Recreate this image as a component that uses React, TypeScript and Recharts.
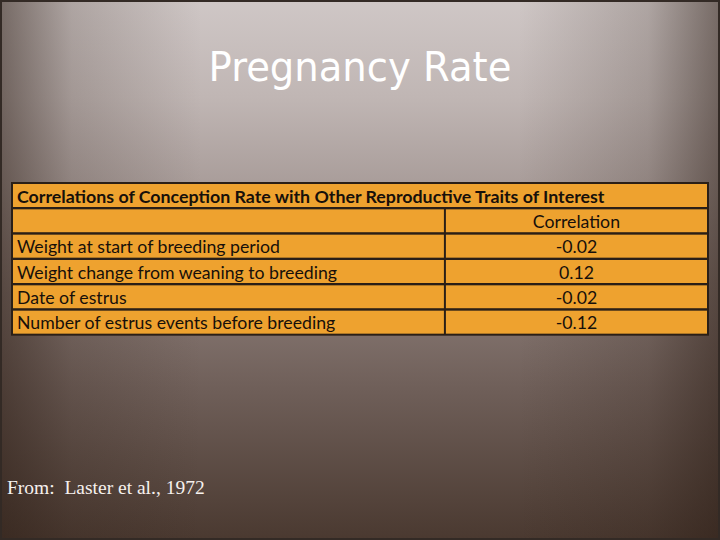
import { BarChart, Bar, XAxis, YAxis } from "recharts";

const slideTitle = "Pregnancy Rate";
const tableTitle =
  "Correlations of Conception Rate with Other Reproductive Traits of Interest";
const valueHeader = "Correlation";
const traits = [
  "Weight at start of breeding period",
  "Weight change from weaning to breeding",
  "Date of estrus",
  "Number of estrus events before breeding",
];
const correlations = [-0.02, 0.12, -0.02, -0.12];
const source = "From:  Laster et al., 1972";

type Row = { id: string; kind: "title" | "header" | "trait"; label: string; value: number | null };

const rows: Row[] = [
  { id: "title", kind: "title", label: tableTitle, value: null },
  { id: "header", kind: "header", label: "", value: null },
  ...traits.map((t, i) => ({ id: `trait-${i}`, kind: "trait" as const, label: t, value: correlations[i] })),
];

const ORANGE = "#eea22f";
const LINE = "#2a1f17";
const INK = "#17100a";
const FONT = "Lato, 'Open Sans', sans-serif";

const renderRow = (props: any) => {
  const { x, y, width, height, index } = props;
  const row: Row | undefined = props.payload ?? rows[index];
  if (!row) return <g />;
  const splitX = x + width * 0.622;
  const midX = (splitX + x + width) / 2;
  const baseY = y + height / 2 + 7;
  return (
    <g key={`row-${row.id}`}>
      <rect x={x} y={y} width={width} height={height} fill={ORANGE} stroke={LINE} strokeWidth={2} />
      {row.kind !== "title" && (
        <line x1={splitX} y1={y} x2={splitX} y2={y + height} stroke={LINE} strokeWidth={2} />
      )}
      <text
        x={x + 5}
        y={baseY}
        fontFamily={FONT}
        fontWeight={row.kind === "title" ? 700 : 400}
        fontSize={row.kind === "title" ? 17.8 : 17.7}
        fill={INK}
      >
        {row.label}
      </text>
      {row.kind === "header" && (
        <text x={midX} y={baseY} textAnchor="middle" fontFamily={FONT} fontSize={17.7} fill={INK}>
          {valueHeader}
        </text>
      )}
      {row.kind === "trait" && row.value !== null && (
        <text x={midX} y={baseY} textAnchor="middle" fontFamily={FONT} fontSize={17.7} fill={INK}>
          {row.value.toFixed(2)}
        </text>
      )}
    </g>
  );
};

export default function App() {
  return (
    <div
      style={{
        position: "absolute",
        left: 0,
        top: 0,
        width: 720,
        height: 540,
        overflow: "hidden",
        background:
          "linear-gradient(to bottom, #cfc7c6 0%, #c0b6b4 18%, #a99d9a 34%, #8c7d78 52%, #6f5f59 72%, #4a3930 100%)",
      }}
    >
      <div
        style={{
          position: "absolute",
          inset: 0,
          background:
            "linear-gradient(to right, rgba(45,30,22,0.55) 0%, rgba(45,30,22,0.2) 10%, rgba(45,30,22,0) 28%, rgba(45,30,22,0) 72%, rgba(45,30,22,0.2) 90%, rgba(45,30,22,0.55) 100%)",
        }}
      />
      <div
        style={{
          position: "absolute",
          inset: 0,
          boxShadow: "inset 0 0 0 2px #332a25",
        }}
      />
      <div
        style={{
          position: "absolute",
          left: 0,
          top: 39,
          width: 720,
          textAlign: "center",
          color: "#ffffff",
          fontFamily: "'DejaVu Sans', sans-serif",
          fontSize: 41,
          lineHeight: "56px",
          transform: "scaleX(0.94)",
        }}
      >
        {slideTitle}
      </div>
      <div style={{ position: "absolute", left: 0, top: 0 }}>
        <BarChart
          width={720}
          height={540}
          data={rows}
          layout="vertical"
          margin={{ top: 183, right: 12, bottom: 205, left: 12 }}
          barCategoryGap={0}
        >
          <XAxis type="number" domain={[-0.2, 0.2]} hide />
          <YAxis type="category" dataKey="id" hide />
          <Bar
            dataKey={(r: Row) => r.value ?? 0}
            isAnimationActive={false}
            background={renderRow}
            shape={() => <g />}
          />
        </BarChart>
      </div>
      <div
        style={{
          position: "absolute",
          left: 7,
          top: 474,
          color: "#f6f1ee",
          fontFamily: "'Liberation Serif', 'DejaVu Serif', serif",
          fontSize: 19.5,
          lineHeight: "28px",
          whiteSpace: "pre",
        }}
      >
        {source}
      </div>
    </div>
  );
}
